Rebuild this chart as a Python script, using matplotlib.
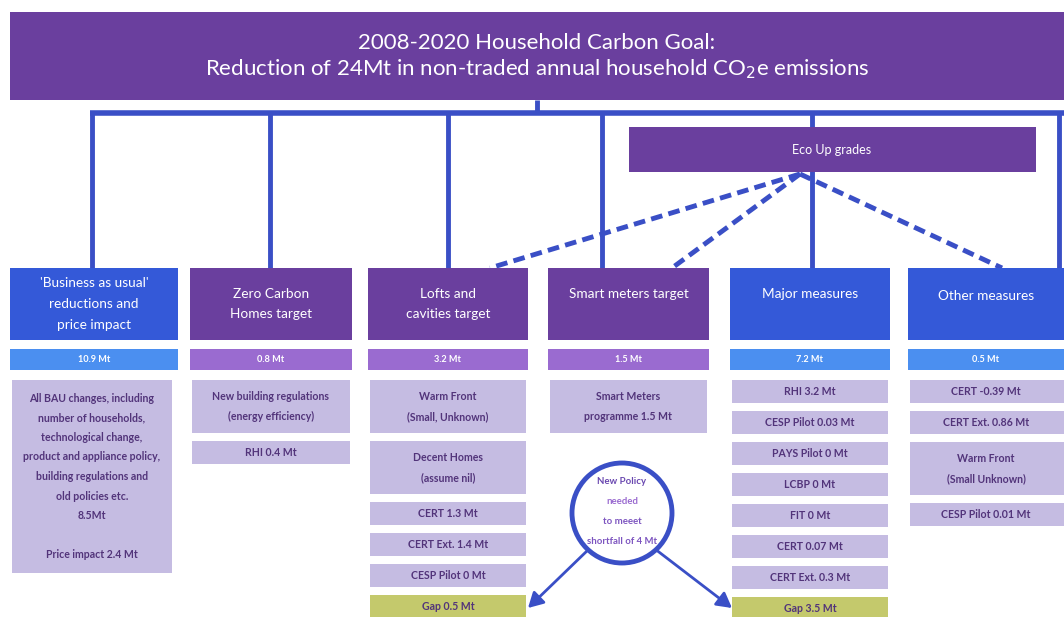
import matplotlib
matplotlib.use("Agg")
import matplotlib.pyplot as plt
from matplotlib.patches import Rectangle, Circle

# ---------------- data ----------------
title_lines = ["2008-2020 Household Carbon Goal:",
               r"Reduction of 24Mt in non-traded annual household CO$_2$e emissions"]
eco_label = "Eco Up grades"
headers = [["'Business as usual'", "reductions and", "price impact"],
           ["Zero Carbon", "Homes target"],
           ["Lofts and", "cavities target"],
           ["Smart meters target"],
           ["Major measures"],
           ["Other measures"]]
header_kind = ["blue", "purple", "purple", "purple", "blue", "blue"]
values = ["10.9 Mt", "0.8 Mt", "3.2 Mt", "1.5 Mt", "7.2 Mt", "0.5 Mt"]
details = [
    [["All BAU changes, including", "number of households,", "technological change,",
      "product and appliance policy,", "building regulations and", "old policies etc.",
      "8.5Mt", "", "Price impact 2.4 Mt"]],
    [["New building regulations", "(energy efficiency)"], ["RHI 0.4 Mt"]],
    [["Warm Front", "(Small, Unknown)"], ["Decent Homes", "(assume nil)"],
     ["CERT 1.3 Mt"], ["CERT Ext. 1.4 Mt"], ["CESP Pilot 0 Mt"]],
    [["Smart Meters", "programme 1.5 Mt"]],
    [["RHI 3.2 Mt"], ["CESP Pilot 0.03 Mt"], ["PAYS Pilot 0 Mt"], ["LCBP 0 Mt"],
     ["FIT 0 Mt"], ["CERT 0.07 Mt"], ["CERT Ext. 0.3 Mt"]],
    [["CERT -0.39 Mt"], ["CERT Ext. 0.86 Mt"], ["Warm Front", "(Small Unknown)"],
     ["CESP Pilot 0.01 Mt"]],
]
gaps = [None, None, "Gap 0.5 Mt", None, "Gap 3.5 Mt", None]
circle_lines = ["New Policy", "needed", "to meeet", "shortfall of 4 Mt"]

# ---------------- layout / style ----------------
W, H = 1064, 617
col_x = [(10, 178), (190, 352), (368, 528), (548, 709), (730, 890), (908, 1068)]
stem_x = [92, 270, 448, 602, 812, 1059]
FONT = "Lato"
PURPLE = "#6a3f9e"
BLUE = "#3459d8"
LINE_BLUE = "#3a4fc6"
LIGHT_BLUE = "#4b8ff0"
LIGHT_PURPLE = "#9a6bd0"
DETAIL = "#c5bce2"
DETAIL_TXT = "#52347a"
GAP = "#c4c96c"

fig = plt.figure(figsize=(W / 100, H / 100), dpi=100)
ax = fig.add_axes([0, 0, 1, 1])
ax.set_xlim(0, W)
ax.set_ylim(H, 0)
ax.axis("off")


def rect(x0, x1, y0, y1, color, z=2):
    ax.add_patch(Rectangle((x0, y0), x1 - x0, y1 - y0, facecolor=color,
                           edgecolor="none", zorder=z))


# title
rect(10, 1064, 12, 100, PURPLE)
ax.text(537, 43, title_lines[0], ha="center", va="center", color="white",
        fontsize=16, family=FONT, zorder=3)
ax.text(537, 69, title_lines[1], ha="center", va="center", color="white",
        fontsize=16, family=FONT, zorder=3)

# connectors
ax.plot([537, 537], [100, 113], color=LINE_BLUE, lw=3.5, zorder=1,
        solid_capstyle="butt")
ax.plot([stem_x[0] - 2, W], [113, 113], color=LINE_BLUE, lw=4, zorder=1,
        solid_capstyle="butt")
for sx in stem_x:
    ax.plot([sx, sx], [113, 268], color=LINE_BLUE, lw=3.5, zorder=1,
            solid_capstyle="butt")

# Eco box
rect(629, 1036, 127, 172, PURPLE, z=3)
ax.text(832, 150, eco_label, ha="center", va="center", color="white",
        fontsize=9, family=FONT, zorder=4)
for tx, ty in [(490, 268), (672, 268), (1002, 268)]:
    ax.plot([800, tx], [174, ty], color=LINE_BLUE, lw=3.5, ls=(0, (2.4, 1.3)),
            zorder=2)

# columns
for i, (x0, x1) in enumerate(col_x):
    xc = (x0 + min(x1, W)) / 2
    rect(x0, x1, 268, 340, BLUE if header_kind[i] == "blue" else PURPLE)
    lines = headers[i]
    if len(lines) == 1:
        ys = [294 if i != 5 else 296]
    else:
        ys = [304 + (k - (len(lines) - 1) / 2) * 21 for k in range(len(lines))]
    for ln, yy in zip(lines, ys):
        ax.text(xc, yy, ln, ha="center", va="center", color="white",
                fontsize=9.8, family=FONT, zorder=3)
    rect(x0, x1, 349, 370, LIGHT_BLUE if header_kind[i] == "blue" else LIGHT_PURPLE)
    ax.text(xc, 359.5, values[i], ha="center", va="center", color="white",
            fontsize=6.6, family=FONT, fontweight="bold", zorder=3)
    y = 380
    items = [(d, DETAIL) for d in details[i]]
    if gaps[i]:
        items.append(([gaps[i]], GAP))
    for lines, colr in items:
        n = len(lines)
        h = 23 if n == 1 else 13 + 20 * n
        rect(x0 + 2, min(x1, W) - (6 if i == 0 else (2 if i != 5 else 0)),
             y, y + h, colr)
        for k, ln in enumerate(lines):
            yy = y + h / 2 + (k - (n - 1) / 2) * 19.5
            ax.text(xc - (2 if i == 0 else 0), yy, ln, ha="center", va="center",
                    color=DETAIL_TXT, fontsize=7.6, family=FONT,
                    fontweight="bold", zorder=3)
        y += h + 8

# circle
ax.add_patch(Circle((622, 513), 50, facecolor="white", edgecolor=LINE_BLUE,
                    lw=3.5, zorder=5))
circle_colors = ["#6a48b0", "#9a6bd0", "#7d55c0", "#7d55c0"]
for k, ln in enumerate(circle_lines):
    ax.text(622, 482 + k * 20, ln, ha="center", va="center", color=circle_colors[k],
            fontsize=6.9, family=FONT, fontweight="bold", zorder=6)
for (sx, sy), (ex, ey) in [((589, 549), (528, 608)), ((655, 549), (732, 608))]:
    ax.annotate("", xy=(ex, ey), xytext=(sx, sy),
                arrowprops=dict(arrowstyle="-|>,head_length=0.9,head_width=0.5",
                                color=LINE_BLUE, lw=2, shrinkA=0, shrinkB=0),
                zorder=4)

fig.savefig("out.png", dpi=100)
